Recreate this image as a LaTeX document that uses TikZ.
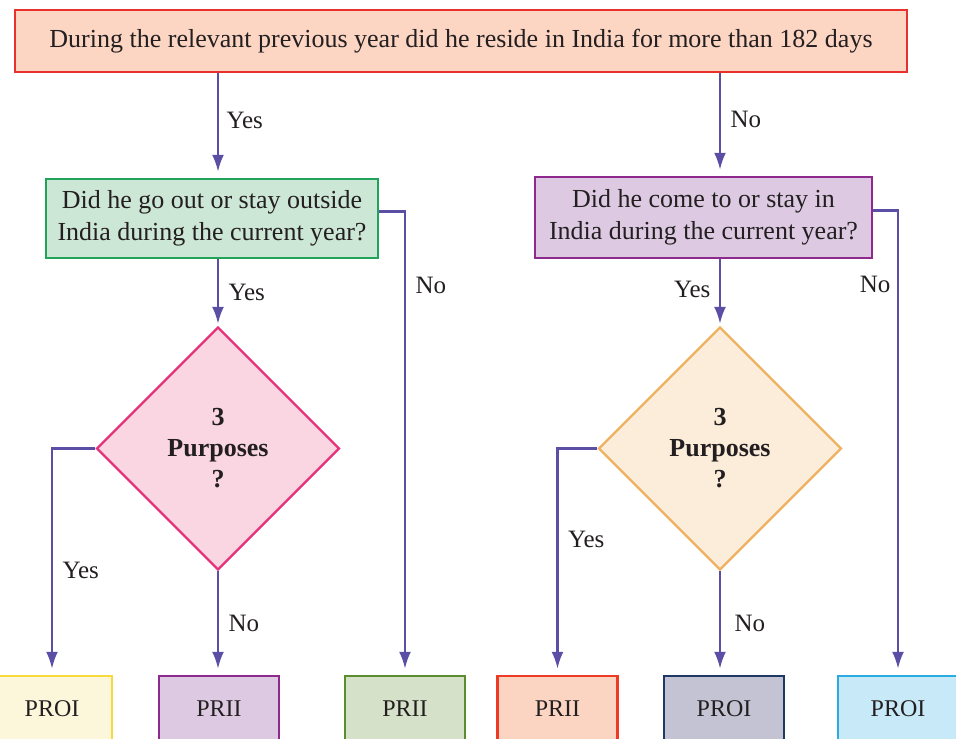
\documentclass[tikz,border=0pt]{standalone}
\usepackage{fontspec}
\setmainfont{Liberation Serif}
\usetikzlibrary{shapes.geometric,arrows.meta}
\definecolor{txt}{HTML}{231F20}
\definecolor{flowc}{HTML}{5A4EA5}
% fills and borders
\definecolor{topfill}{HTML}{FCD5C3}  \definecolor{topline}{HTML}{E8302F}
\definecolor{grnfill}{HTML}{CDE7D6}  \definecolor{grnline}{HTML}{22A35A}
\definecolor{prpfill}{HTML}{DDCAE2}  \definecolor{prpline}{HTML}{8E2A8E}
\definecolor{pnkfill}{HTML}{F9D6E1}  \definecolor{pnkline}{HTML}{E6327A}
\definecolor{orgfill}{HTML}{FCEDDB}  \definecolor{orgline}{HTML}{EFB160}
\definecolor{ylwfill}{HTML}{FCF6DB}  \definecolor{ylwline}{HTML}{F7DA3C}
\definecolor{olvfill}{HTML}{D5E1C8}  \definecolor{olvline}{HTML}{5B8C2F}
\definecolor{salfill}{HTML}{FCD5C2}  \definecolor{salline}{HTML}{EE3B26}
\definecolor{navfill}{HTML}{C3C3D3}  \definecolor{navline}{HTML}{1E3A64}
\definecolor{skyfill}{HTML}{C8E9F8}  \definecolor{skyline}{HTML}{2AACE2}
\begin{document}
\begin{tikzpicture}[x=1pt, y=-1pt, >={Latex[length=17pt,width=12pt]},
  every node/.style={text=txt, font=\fontsize{26}{32}\selectfont},
  box/.style={draw, line width=2.5pt, align=center, inner sep=0pt},
  choice/.style={diamond, draw, line width=2.4pt, aspect=1, inner sep=0pt,
    minimum width=243pt, minimum height=243pt, align=center,
    font=\fontsize{26}{31}\selectfont\bfseries},
  result/.style={box, minimum width=120pt, minimum height=66pt,
    font=\fontsize{24}{26}\selectfont},
  flow/.style={->, line width=2.4pt, draw=flowc, shorten >=6pt},
  lbl/.style={font=\fontsize{25}{28}\selectfont}]
  \useasboundingbox (0,0) rectangle (956,739);
  % question boxes
  \node[box, fill=topfill, draw=topline, minimum width=892pt, minimum height=62pt]
    (q1) at (461,41) {During the relevant previous year did he reside in India for more than 182 days};
  \node[box, fill=grnfill, draw=grnline, minimum width=332pt, minimum height=79pt]
    (q2) at (212,218.5) {Did he go out or stay outside\\India during the current year?};
  \node[box, fill=prpfill, draw=prpline, minimum width=337pt, minimum height=81pt]
    (q3) at (703.5,217.5) {Did he come to or stay in\\India during the current year?};
  % diamonds
  \node[choice, fill=pnkfill, draw=pnkline] (d1) at (218,448.5) {3\\Purposes\\?};
  \node[choice, fill=orgfill, draw=orgline] (d2) at (720,448.5) {3\\Purposes\\?};
  % results
  \node[result, fill=ylwfill, draw=ylwline] (r1) at (52,709) {PROI};
  \node[result, fill=prpfill, draw=prpline] (r2) at (219,709) {PRII};
  \node[result, fill=olvfill, draw=olvline] (r3) at (405,709) {PRII};
  \node[result, fill=salfill, draw=salline] (r4) at (557.5,709) {PRII};
  \node[result, fill=navfill, draw=navline] (r5) at (724,709) {PROI};
  \node[result, fill=skyfill, draw=skyline] (r6) at (898,709) {PROI};
  % connectors
  \draw[flow] (q1.south -| d1.north) -- node[lbl, right=4pt, pos=0.45] {Yes} (q2.north -| d1.north);
  \draw[flow] (q1.south -| d2.north) -- node[lbl, right=6pt, pos=0.45] {No} (q3.north -| d2.north);
  \draw[flow, shorten >=2pt] (q2.south -| d1.north) -- node[lbl, right=6pt] {Yes} (d1.north);
  \draw[flow, shorten >=2pt] (q3.south -| d2.north) -- node[lbl, left=5pt, pos=0.45] {Yes} (d2.north);
  \draw[flow] ([yshift=7pt]q2.east) -| node[lbl, right=6pt, pos=0.58] {No} (r3.north);
  \draw[flow] ([yshift=7pt]q3.east) -| node[lbl, left=3pt, pos=0.58] {No} (r6.north);
  \draw[flow] (d1.west) -| node[lbl, right=6pt, pos=0.77] {Yes} (r1.north);
  \draw[flow] (d1.south) -- node[lbl, right=6pt] {No} (d1.south |- r2.north);
  \draw[flow] (d2.west) -| node[lbl, right=6pt, pos=0.70] {Yes} (r4.north);
  \draw[flow] (d2.south) -- node[lbl, right=10pt] {No} (d2.south |- r5.north);
\end{tikzpicture}
\end{document}
